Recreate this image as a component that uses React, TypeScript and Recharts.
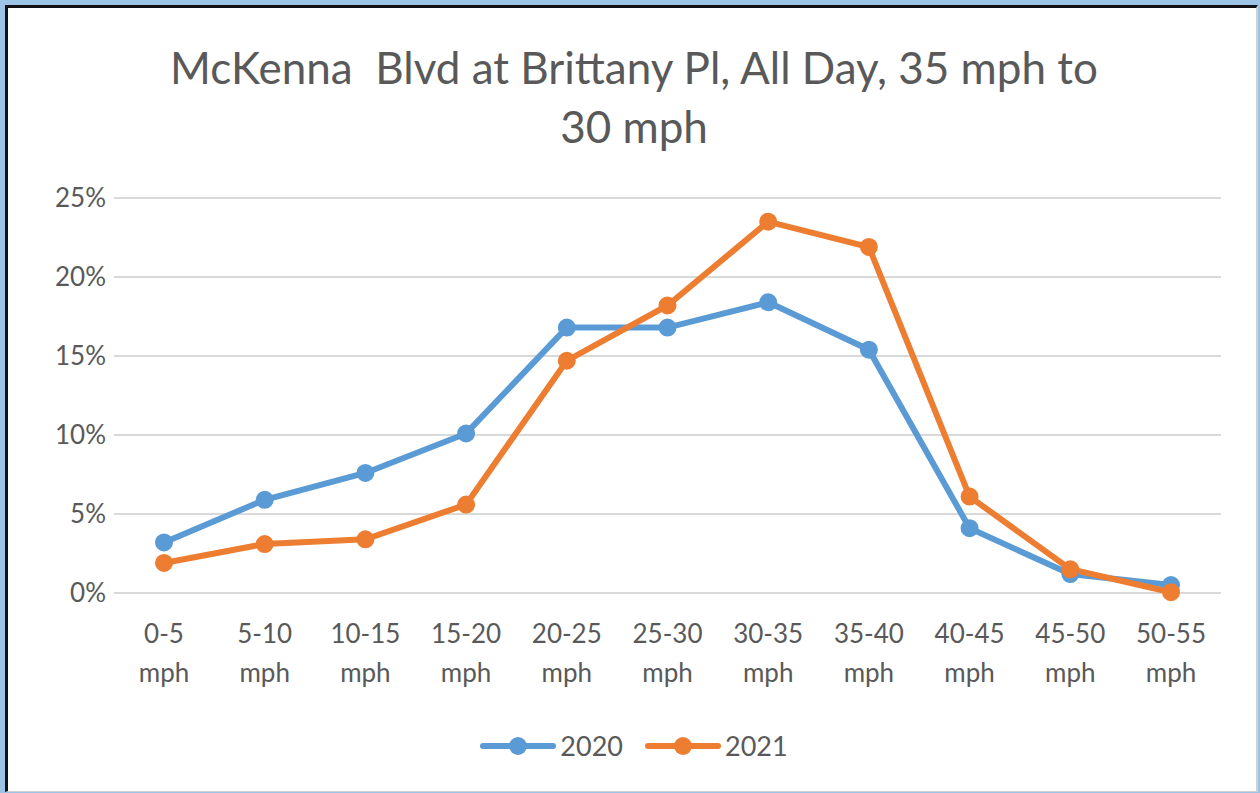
import { CartesianGrid, Legend, Line, LineChart, XAxis, YAxis } from "recharts";

const speedBins = ["0-5", "5-10", "10-15", "15-20", "20-25", "25-30", "30-35", "35-40", "40-45", "45-50", "50-55"];
const pct2020 = [3.2, 5.9, 7.6, 10.1, 16.8, 16.8, 18.4, 15.4, 4.1, 1.2, 0.5];
const pct2021 = [1.9, 3.1, 3.4, 5.6, 14.7, 18.2, 23.5, 21.9, 6.1, 1.5, 0.05];
const yTicks = [0, 5, 10, 15, 20, 25];

const BLUE = "#5B9BD5";
const ORANGE = "#ED7D31";
const TEXT = "#595959";
const FONT = "Lato, 'Open Sans', sans-serif";

const data = speedBins.map((bin, i) => ({ bin, y2020: pct2020[i], y2021: pct2021[i] }));

const BinTick = (props: any) => {
  const { x, y, payload } = props;
  return (
    <text x={x} y={y} textAnchor="middle" fill={TEXT} fontSize={26} fontFamily={FONT}>
      <tspan x={x} dy={42}>{payload.value}</tspan>
      <tspan x={x} dy={39}>mph</tspan>
    </text>
  );
};

const LegendBox = () => {
  const items = [
    { label: "2020", color: BLUE },
    { label: "2021", color: ORANGE },
  ];
  return (
    <div style={{ display: "flex", justifyContent: "center", gap: 22, fontFamily: FONT, fontSize: 27, color: TEXT }}>
      {items.map(it => (
        <div key={it.label} style={{ display: "flex", alignItems: "center" }}>
          <svg width={76} height={24}>
            <line x1={3} y1={12} x2={73} y2={12} stroke={it.color} strokeWidth={6} strokeLinecap="round" />
            <circle cx={38} cy={12} r={9} fill={it.color} />
          </svg>
          <span style={{ marginLeft: 4 }}>{it.label}</span>
        </div>
      ))}
    </div>
  );
};

export default function App() {
  return (
    <div style={{ position: "absolute", left: 0, top: 0, width: 1260, height: 793, background: "#9DC3E6", overflow: "hidden" }}>
      <div
        style={{
          position: "absolute",
          left: 5,
          top: 5,
          width: 1253,
          height: 787,
          background: "#fff",
          borderTop: "3px solid #111",
          borderLeft: "3px solid #111",
          borderRight: "2px solid #d0d0d0",
          borderBottom: "1px solid #d0d0d0",
          boxSizing: "border-box",
        }}
      />
      <div
        style={{
          position: "absolute",
          left: 0,
          top: 38,
          width: 1268,
          textAlign: "center",
          fontFamily: FONT,
          fontSize: 44,
          lineHeight: "59px",
          color: TEXT,
          whiteSpace: "pre",
        }}
      >
        {"McKenna  Blvd at Brittany Pl, All Day, 35 mph to\n30 mph"}
      </div>
      <div style={{ position: "absolute", left: 0, top: 0 }}>
        <LineChart width={1260} height={793} data={data} margin={{ top: 198, right: 39, left: 44, bottom: 100 }}>
          <CartesianGrid vertical={false} stroke="#D9D9D9" strokeWidth={2} />
          <XAxis
            dataKey="bin"
            height={100}
            axisLine={false}
            tickLine={false}
            interval={0}
            padding={{ left: 50, right: 50 }}
            tick={<BinTick />}
          />
          <YAxis
            width={70}
            domain={[0, 25]}
            ticks={yTicks}
            axisLine={false}
            tickLine={false}
            tickFormatter={(v: number) => `${v}%`}
            tick={{ fill: TEXT, fontSize: 26, fontFamily: FONT }}
          />
          <Legend
            layout="horizontal"
            verticalAlign="middle"
            align="center"
            wrapperStyle={{ top: 729, left: 0, width: 1268 }}
            content={<LegendBox />}
          />
          <Line type="linear" dataKey="y2020" name="2020" stroke={BLUE} strokeWidth={6} dot={{ r: 8, fill: BLUE, stroke: BLUE, strokeWidth: 2 }} isAnimationActive={false} />
          <Line type="linear" dataKey="y2021" name="2021" stroke={ORANGE} strokeWidth={6} dot={{ r: 8, fill: ORANGE, stroke: ORANGE, strokeWidth: 2 }} isAnimationActive={false} />
        </LineChart>
      </div>
    </div>
  );
}
